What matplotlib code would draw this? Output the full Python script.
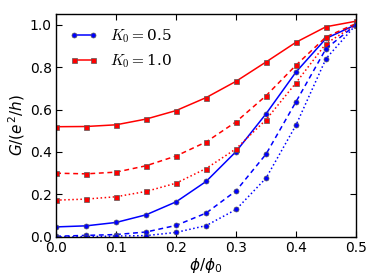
import matplotlib
matplotlib.use("Agg")
import matplotlib.pyplot as plt
from matplotlib.font_manager import FontProperties

phi = [0.0, 0.05, 0.1, 0.15, 0.2, 0.25, 0.3, 0.35, 0.4, 0.45, 0.5]

# K0 = 0.5 (blue circles)
blue_solid  = [0.047, 0.052, 0.068, 0.104, 0.165, 0.261, 0.402, 0.580, 0.777, 0.935, 1.000]
blue_dashed = [0.003, 0.007, 0.011, 0.023, 0.054, 0.112, 0.217, 0.390, 0.637, 0.887, 1.000]
blue_dotted = [0.000, 0.001, 0.004, 0.006, 0.021, 0.053, 0.129, 0.277, 0.527, 0.840, 1.000]

# K0 = 1.0 (red squares)
red_solid  = [0.519, 0.520, 0.528, 0.555, 0.595, 0.656, 0.733, 0.824, 0.917, 0.990, 1.016]
red_dashed = [0.300, 0.297, 0.305, 0.335, 0.381, 0.447, 0.542, 0.665, 0.809, 0.942, 1.005]
red_dotted = [0.173, 0.178, 0.189, 0.214, 0.253, 0.322, 0.415, 0.552, 0.726, 0.911, 1.000]

xticks = [0.0, 0.1, 0.2, 0.3, 0.4, 0.5]
yticks = [0.0, 0.2, 0.4, 0.6, 0.8, 1.0]

fig = plt.figure(figsize=(3.74, 2.80), dpi=100)
ax = fig.add_axes([0.150, 0.154, 0.802, 0.796])

mk = dict(ms=3.6, mec="0.35", mew=0.5, lw=1.1)
dash = (0, (3.2, 2.4))

ax.plot(phi, blue_solid, "b-", marker="o", label=r"$K_0=$0.5", **mk)
ax.plot(phi, red_solid, "r-", marker="s", label=r"$K_0=$1.0", **mk)
ax.plot(phi, red_dashed, color="r", ls=dash, marker="s", **mk)
ax.plot(phi, red_dotted, "r:", marker="s", **mk)
ax.plot(phi, blue_dashed, color="b", ls=dash, marker="o", **mk)
ax.plot(phi, blue_dotted, "b:", marker="o", **mk)

ax.set_xlim(0, 0.5)
ax.set_ylim(0, 1.05)
ax.set_xticks(xticks)
ax.set_yticks(yticks)
ax.tick_params(direction="in", top=True, right=True, length=4, labelsize=10, pad=3)
for s in ax.spines.values():
    s.set_linewidth(1.0)

ax.set_xlabel(r"$\phi/\phi_0$", fontsize=11, labelpad=1)
ax.set_ylabel(r"$G/(e^2/h)$", fontsize=11, labelpad=2)

leg_font = FontProperties(family="serif", size=11, math_fontfamily="cm")
ax.legend(loc="upper left", frameon=False, numpoints=2, prop=leg_font,
          handlelength=1.8, handletextpad=0.8, borderaxespad=0.5, labelspacing=0.45)

fig.savefig("out.png", dpi=100)
